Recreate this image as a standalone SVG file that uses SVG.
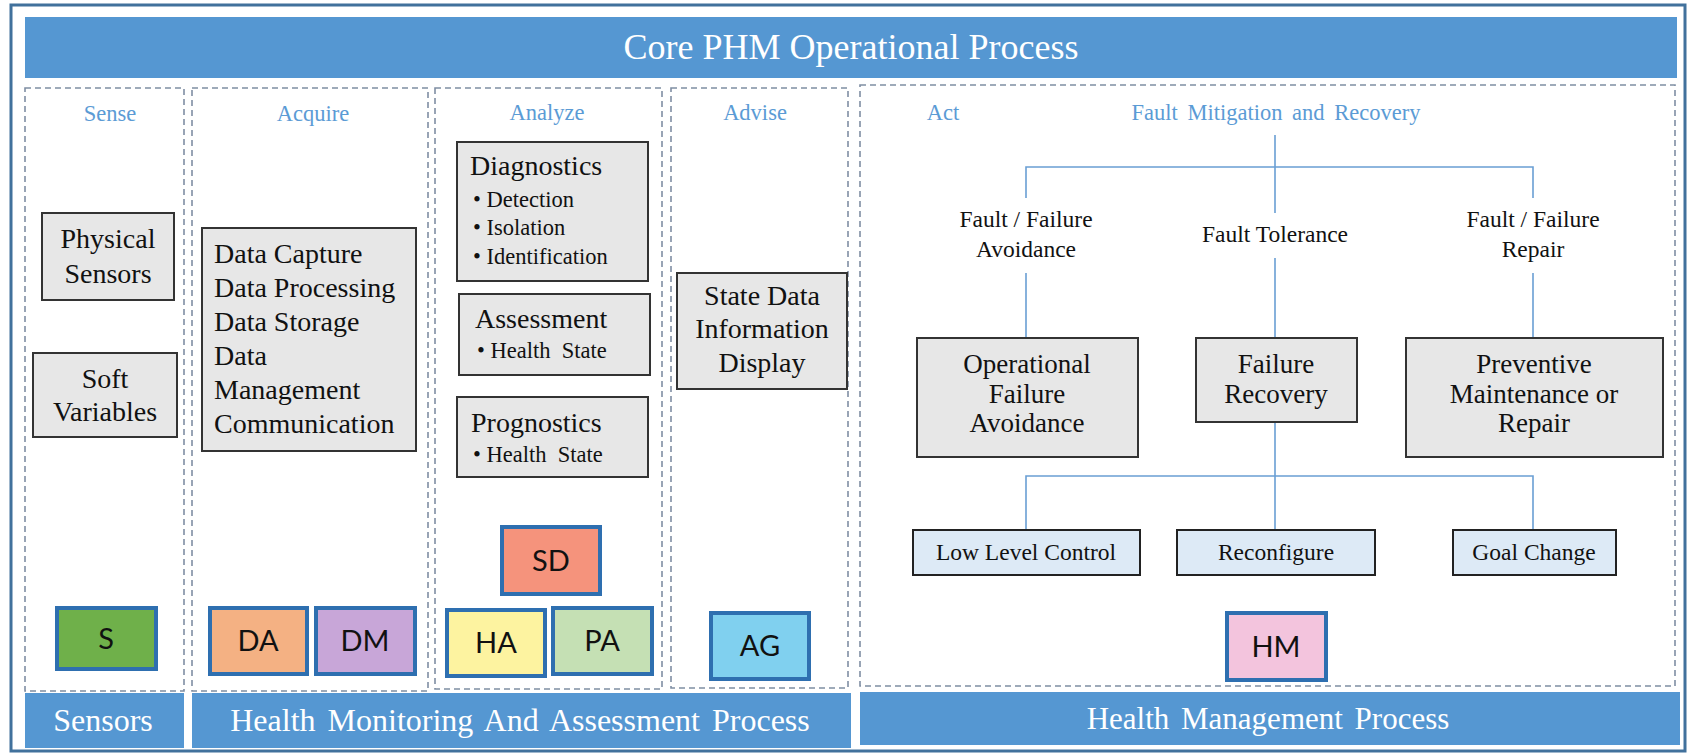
<svg xmlns="http://www.w3.org/2000/svg" width="1688" height="755" viewBox="0 0 1688 755">
<style>
.frame{fill:#fff;stroke:#41719c;stroke-width:3}
.bar{fill:#5597d2}
.serif{font-family:'Liberation Serif','Times New Roman',Tinos,'DejaVu Serif',serif}
.bartxt{fill:#fff;text-anchor:middle}
.col{fill:none;stroke:#7f8ea3;stroke-width:1.6;stroke-dasharray:6 4}
.lbl{font-size:22.5px;fill:#5b9bd5;text-anchor:middle}
.gbox{fill:#e7e7e7;stroke:#333;stroke-width:2}
.sbox{fill:#ddeaf6;stroke:#222;stroke-width:2}
.big{font-size:28px;fill:#111}
.mid{font-size:27px;fill:#111;text-anchor:middle}
.sm{font-size:22.5px;fill:#111}
.act{font-size:23.5px;fill:#111;text-anchor:middle}
.c{text-anchor:middle}
.code{stroke:#2e6fb0;stroke-width:4}
.codetxt{font-family:Lato,'Open Sans',sans-serif;font-size:29px;fill:#111;text-anchor:middle}
.ln{fill:none;stroke:#6a9fd4;stroke-width:1.6}
</style>
<rect class="frame" x="11" y="5" width="1674" height="746"/>

<g class="serif">
<g id="title-bar">
<rect class="bar" x="25" y="17" width="1652" height="61"/>
<text class="bartxt" x="851" y="59" font-size="36">Core PHM Operational Process</text>
</g>

<g id="columns">
<rect class="col" x="25" y="88" width="159" height="603"/>
<rect class="col" x="192" y="88" width="236" height="603"/>
<rect class="col" x="435" y="88" width="227" height="601"/>
<rect class="col" x="671" y="88" width="177" height="600"/>
<rect class="col" x="860" y="85" width="815" height="601"/>
<text class="lbl" x="110" y="121">Sense</text>
<text class="lbl" x="313" y="121">Acquire</text>
<text class="lbl" x="547" y="120">Analyze</text>
<text class="lbl" x="755" y="120">Advise</text>
<text class="lbl" x="943" y="120">Act</text>
<text class="lbl" x="1276" y="120" word-spacing="4">Fault Mitigation and Recovery</text>
</g>

<g id="bottom-bars">
<rect class="bar" x="25" y="693" width="159" height="55"/>
<text class="bartxt" x="103" y="731" font-size="32">Sensors</text>
<rect class="bar" x="192" y="693" width="659" height="55"/>
<text class="bartxt" x="520" y="731" font-size="32" word-spacing="4">Health Monitoring And Assessment Process</text>
<rect class="bar" x="860" y="692" width="820" height="53"/>
<text class="bartxt" x="1268" y="729" font-size="31" word-spacing="4">Health Management Process</text>
</g>

<g id="connectors">
<path class="ln" d="M1275 135 V213 M1026 198 V167 H1533 V198 M1026 273 V338 M1275 258 V338 M1533 273 V338"/>
<path class="ln" d="M1275 422 V530 M1026 530 V476 H1533 V530"/>
</g>

<g id="physical-sensors">
<rect class="gbox" x="42" y="213" width="132" height="87"/>
<text class="big c" x="108" y="248">Physical</text>
<text class="big c" x="108" y="283">Sensors</text>
</g>
<g id="soft-variables">
<rect class="gbox" x="33" y="353" width="144" height="84"/>
<text class="big c" x="105" y="388">Soft</text>
<text class="big c" x="105" y="421">Variables</text>
</g>

<g id="data-box">
<rect class="gbox" x="202" y="228" width="214" height="223"/>
<text class="big" x="214" y="263">Data Capture</text>
<text class="big" x="214" y="297">Data Processing</text>
<text class="big" x="214" y="331">Data Storage</text>
<text class="big" x="214" y="365">Data</text>
<text class="big" x="214" y="399">Management</text>
<text class="big" x="214" y="433">Communication</text>
</g>

<g id="diagnostics">
<rect class="gbox" x="457" y="142" width="191" height="139"/>
<text class="big" x="470" y="175">Diagnostics</text>
<text class="sm" x="473" y="207">• Detection</text>
<text class="sm" x="473" y="235">• Isolation</text>
<text class="sm" x="473" y="264">• Identification</text>
</g>
<g id="assessment">
<rect class="gbox" x="459" y="294" width="191" height="81"/>
<text class="big" x="475" y="328">Assessment</text>
<text class="sm" x="477" y="358" xml:space="preserve">• Health  State</text>
</g>
<g id="prognostics">
<rect class="gbox" x="457" y="397" width="191" height="80"/>
<text class="big" x="471" y="432">Prognostics</text>
<text class="sm" x="473" y="462" xml:space="preserve">• Health  State</text>
</g>

<g id="state-data">
<rect class="gbox" x="677" y="273" width="170" height="116"/>
<text class="big c" x="762" y="305">State Data</text>
<text class="big c" x="762" y="338">Information</text>
<text class="big c" x="762" y="372">Display</text>
</g>

<g id="label-avoidance">
<text class="act" x="1026" y="227" xml:space="preserve">Fault / Failure</text>
<text class="act" x="1026" y="257">Avoidance</text>
</g>
<g id="label-tolerance"><text class="act" x="1275" y="242">Fault Tolerance</text></g>
<g id="label-repair">
<text class="act" x="1533" y="227" xml:space="preserve">Fault / Failure</text>
<text class="act" x="1533" y="257">Repair</text>
</g>

<g id="operational">
<rect class="gbox" x="917" y="338" width="221" height="119"/>
<text class="mid" x="1027" y="373">Operational</text>
<text class="mid" x="1027" y="403">Failure</text>
<text class="mid" x="1027" y="432">Avoidance</text>
</g>
<g id="failure-recovery">
<rect class="gbox" x="1196" y="338" width="161" height="84"/>
<text class="mid" x="1276" y="373">Failure</text>
<text class="mid" x="1276" y="403">Recovery</text>
</g>
<g id="preventive">
<rect class="gbox" x="1406" y="338" width="257" height="119"/>
<text class="mid" x="1534" y="373">Preventive</text>
<text class="mid" x="1534" y="403">Maintenance or</text>
<text class="mid" x="1534" y="432">Repair</text>
</g>

<g id="low-level-control"><rect class="sbox" x="913" y="530" width="227" height="45"/><text class="act" x="1026" y="560">Low Level Control</text></g>
<g id="reconfigure"><rect class="sbox" x="1177" y="530" width="198" height="45"/><text class="act" x="1276" y="560">Reconfigure</text></g>
<g id="goal-change"><rect class="sbox" x="1453" y="530" width="163" height="45"/><text class="act" x="1534" y="560">Goal Change</text></g>
</g>

<g id="S"><rect class="code" x="57" y="608" width="99" height="61" fill="#6fb04a"/><text class="codetxt" x="106" y="649">S</text></g>
<g id="DA"><rect class="code" x="210" y="608" width="97" height="66" fill="#f4b183"/><text class="codetxt" x="258" y="651">DA</text></g>
<g id="DM"><rect class="code" x="316" y="608" width="99" height="66" fill="#c8a6d8"/><text class="codetxt" x="365" y="651">DM</text></g>
<g id="SD"><rect class="code" x="502" y="527" width="98" height="67" fill="#f5937c"/><text class="codetxt" x="551" y="571">SD</text></g>
<g id="HA"><rect class="code" x="447" y="610" width="98" height="66" fill="#fdf3a0"/><text class="codetxt" x="496" y="653">HA</text></g>
<g id="PA"><rect class="code" x="553" y="608" width="99" height="66" fill="#c5e0b4"/><text class="codetxt" x="602" y="651">PA</text></g>
<g id="AG"><rect class="code" x="711" y="613" width="98" height="66" fill="#80d0ef"/><text class="codetxt" x="760" y="656">AG</text></g>
<g id="HM"><rect class="code" x="1227" y="613" width="99" height="67" fill="#f3c4dd"/><text class="codetxt" x="1276" y="657">HM</text></g>
</svg>
